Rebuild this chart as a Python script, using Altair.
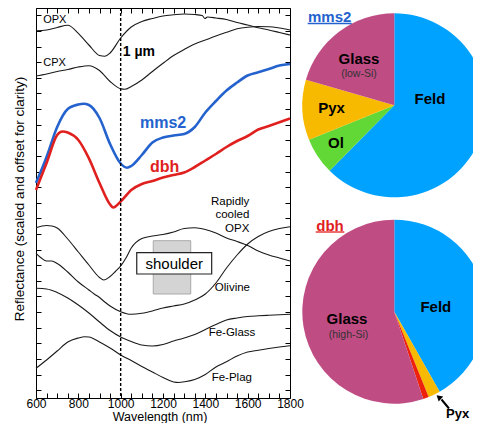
import altair as alt
import pandas as pd

FONT = "Liberation Sans"

# ---------------- spectra (scaled & offset reflectance, arbitrary units) ----------------
opx_wl = [600, 650, 700, 750, 800, 850, 900, 925, 950, 1000, 1050, 1100, 1150, 1200, 1250, 1300,
          1350, 1385, 1398, 1410, 1450, 1500, 1550, 1600, 1650, 1700, 1750, 1800]
opx_r = [3.673, 3.68, 3.705, 3.727, 3.647, 3.53, 3.425, 3.417, 3.45, 3.60, 3.71, 3.765, 3.795, 3.82,
         3.832, 3.84, 3.835, 3.825, 3.795, 3.81, 3.80, 3.785, 3.755, 3.73, 3.702, 3.68, 3.655, 3.63]

cpx_wl = [600, 650, 700, 750, 800, 850, 900, 950, 1000, 1020, 1050, 1100, 1150, 1200, 1250, 1300,
          1350, 1400, 1450, 1500, 1550, 1600, 1650, 1700, 1750, 1800]
cpx_r = [3.22, 3.24, 3.265, 3.285, 3.31, 3.323, 3.275, 3.165, 3.092, 3.087, 3.115, 3.18, 3.265,
         3.347, 3.425, 3.485, 3.54, 3.58, 3.62, 3.657, 3.692, 3.708, 3.715, 3.713, 3.70, 3.68]

mms2_wl = [600, 650, 700, 750, 800, 825, 850, 900, 950, 1000, 1030, 1050, 1100, 1150, 1200, 1250,
           1300, 1350, 1400, 1450, 1500, 1550, 1600, 1650, 1700, 1750, 1800]
mms2_r = [2.15, 2.41, 2.71, 2.89, 2.935, 2.942, 2.93, 2.80, 2.54, 2.345, 2.303, 2.32, 2.43, 2.555,
          2.605, 2.625, 2.64, 2.71, 2.855, 2.97, 3.075, 3.155, 3.225, 3.257, 3.29, 3.325, 3.34]

dbh_wl = [600, 650, 700, 725, 750, 800, 850, 900, 950, 965, 1000, 1050, 1100, 1150, 1200, 1250,
          1300, 1350, 1400, 1450, 1500, 1550, 1600, 1650, 1700, 1750, 1800]
dbh_r = [2.08, 2.35, 2.63, 2.665, 2.655, 2.58, 2.396, 2.15, 1.935, 1.905, 1.965, 2.08, 2.14, 2.17,
         2.205, 2.23, 2.255, 2.31, 2.375, 2.44, 2.51, 2.57, 2.62, 2.685, 2.72, 2.757, 2.795]

rcopx_wl = [600, 650, 675, 700, 750, 800, 850, 900, 920, 950, 975, 1000, 1025, 1050, 1100, 1150,
            1200, 1250, 1300, 1350, 1400, 1450, 1500, 1550, 1600, 1650, 1700, 1750, 1800]
rcopx_r = [1.703, 1.725, 1.72, 1.70, 1.59, 1.46, 1.33, 1.205, 1.18, 1.215, 1.265, 1.32, 1.40, 1.50,
           1.595, 1.62, 1.635, 1.66, 1.695, 1.702, 1.685, 1.65, 1.60, 1.565, 1.525, 1.47, 1.43,
           1.40, 1.37]

oliv_wl = [600, 625, 650, 675, 700, 750, 800, 850, 875, 900, 925, 950, 1000, 1050, 1100, 1150,
           1200, 1250, 1300, 1350, 1400, 1450, 1500, 1550, 1600, 1650, 1700, 1750, 1800]
oliv_r = [1.447, 1.40, 1.37, 1.37, 1.345, 1.26, 1.16, 1.08, 1.04, 1.005, 0.96, 0.92, 0.863, 0.837,
          0.847, 0.87, 0.90, 0.92, 0.94, 0.98, 1.04, 1.15, 1.30, 1.43, 1.54, 1.615, 1.665, 1.695,
          1.713]

feglass_wl = [600, 650, 700, 750, 800, 850, 900, 950, 1000, 1050, 1100, 1150, 1200, 1250, 1300,
              1350, 1400, 1450, 1500, 1550, 1600, 1650, 1700, 1750, 1800]
feglass_r = [1.097, 1.09, 1.055, 1.00, 0.93, 0.85, 0.76, 0.675, 0.61, 0.565, 0.53, 0.52, 0.535,
             0.57, 0.60, 0.635, 0.685, 0.735, 0.78, 0.80, 0.815, 0.822, 0.827, 0.832, 0.837]

feplag_wl = [600, 650, 700, 750, 800, 830, 850, 900, 950, 1000, 1050, 1100, 1150, 1200, 1250, 1275,
             1300, 1350, 1400, 1450, 1500, 1550, 1600, 1650, 1700, 1750, 1800]
feplag_r = [0.297, 0.38, 0.47, 0.56, 0.60, 0.613, 0.61, 0.56, 0.50, 0.43, 0.375, 0.315, 0.26, 0.205,
            0.16, 0.155, 0.162, 0.185, 0.235, 0.31, 0.363, 0.42, 0.46, 0.478, 0.495, 0.51, 0.523]

# ---------------- pie compositions (%) ----------------
mms2_parts = ["Feld", "Ol", "Pyx", "Glass"]
mms2_pct = [62.4, 6.5, 10.6, 20.5]
mms2_colors = ["#00A2FF", "#61D836", "#F8BA00", "#C04C84"]

dbh_parts = ["Feld", "Pyx", "Ol", "Glass"]
dbh_pct = [41.8, 2.1, 1.0, 55.1]
dbh_colors = ["#00A2FF", "#F8BA00", "#EE220C", "#C04C84"]

BLUE = "#2462CE"
RED = "#E0201E"

# ---------------- build tables ----------------
black_specs = [("OPX", opx_wl, opx_r), ("CPX", cpx_wl, cpx_r),
               ("Rapidly cooled OPX", rcopx_wl, rcopx_r), ("Olivine", oliv_wl, oliv_r),
               ("Fe-Glass", feglass_wl, feglass_r), ("Fe-Plag", feplag_wl, feplag_r)]
rows = []
for name, wl, r in black_specs:
    for a, b in zip(wl, r):
        rows.append({"name": name, "wl": a, "r": b})
df_black = pd.DataFrame(rows)

rows = []
for name, wl, r, c in [("mms2", mms2_wl, mms2_r, BLUE), ("dbh", dbh_wl, dbh_r, RED)]:
    for a, b in zip(wl, r):
        rows.append({"name": name, "wl": a, "r": b, "col": c})
df_col = pd.DataFrame(rows)

W, H = 254, 390
xs = alt.Scale(domain=[600, 1800], nice=False, zero=False)
ys = alt.Scale(domain=[0, 3.9], nice=False, zero=False)
x_ticks = list(range(600, 1801, 50))
y_ticks = [round(0.078 + 0.1562 * k, 4) for k in range(25)]

common_ax = dict(domain=False, grid=False, tickSize=5, offset=-5, tickColor="black", tickWidth=1)

black = alt.Chart(df_black).mark_line(color="#1a1a1a", strokeWidth=1.1, interpolate="monotone").encode(
    x=alt.X("wl:Q", scale=xs, title=None,
            axis=alt.Axis(orient="bottom", values=x_ticks, format="d",
                          labelExpr="datum.value % 200 == 0 ? datum.label : ''",
                          labelFlush=False, labelOverlap=False, labelPadding=0,
                          labelFont=FONT, labelFontSize=12, labelColor="black", **common_ax)),
    y=alt.Y("r:Q", scale=ys, title=None,
            axis=alt.Axis(orient="left", values=y_ticks, labels=False, **common_ax)),
    detail="name:N",
)

colored = alt.Chart(df_col).mark_line(strokeWidth=2.6, interpolate="monotone").encode(
    x=alt.X("wl:Q", scale=xs, title=None,
            axis=alt.Axis(orient="top", values=x_ticks, labels=False, **common_ax)),
    y=alt.Y("r:Q", scale=ys, title=None,
            axis=alt.Axis(orient="right", values=y_ticks, labels=False, **common_ax)),
    color=alt.Color("col:N", scale=None),
    detail="name:N",
)


def drect(x1, x2, y1, y2, fill, stroke, sw=1):
    d = pd.DataFrame({"x1": [x1], "x2": [x2], "y1": [y1], "y2": [y2]})
    return alt.Chart(d).mark_rect(fill=fill, stroke=stroke, strokeWidth=sw).encode(
        x=alt.X("x1:Q", scale=xs, axis=None), x2="x2:Q",
        y=alt.Y("y1:Q", scale=ys, axis=None), y2="y2:Q")


def dtext(txt, wl, r, size=11, bold=False, color="black", align="left"):
    d = pd.DataFrame({"wl": [wl], "r": [r], "t": [txt]})
    return alt.Chart(d).mark_text(font=FONT, fontSize=size, fontWeight="bold" if bold else "normal",
                                  color=color, align=align, baseline="middle").encode(
        x=alt.X("wl:Q", scale=xs, axis=None), y=alt.Y("r:Q", scale=ys, axis=None), text="t:N")


def ptext(txt, px, py, size=15, bold=True, color="black", align="center", baseline="middle", angle=0):
    d = pd.DataFrame({"t": [txt]})
    kw = dict(font=FONT, fontSize=size, fontWeight="bold" if bold else "normal", color=color,
              align=align, baseline=baseline)
    if angle:
        kw["angle"] = angle
    return alt.Chart(d).mark_text(**kw).encode(x=alt.value(px), y=alt.value(py), text="t:N")


def prule(x1, y1, x2, y2, color="black", sw=1.0):
    d = pd.DataFrame({"a": [0]})
    return alt.Chart(d).mark_rule(color=color, strokeWidth=sw).encode(
        x=alt.value(x1), y=alt.value(y1), x2=alt.value(x2), y2=alt.value(y2))


def pie(parts, pct, colors, cx, cy):
    d = pd.DataFrame({"part": parts, "pct": pct, "col": colors, "ord": list(range(len(parts)))})
    return alt.Chart(d).mark_arc(outerRadius=92).encode(
        theta=alt.Theta("pct:Q", stack=True),
        color=alt.Color("col:N", scale=None),
        order=alt.Order("ord:Q"),
        x=alt.value(cx), y=alt.value(cy))


# dashed 1 micron line
dash = alt.Chart(pd.DataFrame({"wl": [1000]})).mark_rule(
    color="black", strokeWidth=1.4, strokeDash=[3, 2]).encode(
    x=alt.X("wl:Q", scale=xs, axis=None), y=alt.value(0), y2=alt.value(H))

# arrow head
arrow_head = alt.Chart(pd.DataFrame({"a": [0]})).mark_point(
    shape="triangle", filled=True, color="black", size=45, angle=312, opacity=1).encode(
    x=alt.value(403.5), y=alt.value(389.8))

layers = [
    black, colored,
    drect(1154, 1331, 1.04, 1.573, "#D4D4D4", "#AAAAAA"),
    drect(1076, 1430, 1.24, 1.453, "white", "#222222", 1.2),
    dtext("shoulder", 1253, 1.345, size=15, align="center"),
    dash,
    dtext("OPX", 634, 3.78, size=11),
    dtext("CPX", 634, 3.353, size=11),
    dtext("1 µm", 1010, 3.463, size=14, bold=True),
    dtext("mms2", 1091, 2.747, size=16, bold=True, color=BLUE),
    dtext("dbh", 1138, 2.313, size=16, bold=True, color=RED),
    dtext("Rapidly", 1608, 1.963, size=11.5, align="right"),
    dtext("cooled", 1608, 1.83, size=11.5, align="right"),
    dtext("OPX", 1608, 1.69, size=11.5, align="right"),
    dtext("Olivine", 1528, 1.097, size=11.5, align="center"),
    dtext("Fe-Glass", 1526, 0.647, size=11.5, align="center"),
    dtext("Fe-Plag", 1525, 0.197, size=11.5, align="center"),
    ptext("Wavelength (nm)", 124, 408.8, size=12.5, bold=False),
    ptext("Reflectance (scaled and offset for clarity)", -16, 191, size=13.5, bold=False, angle=270),
    # pies
    pie(mms2_parts, mms2_pct, mms2_colors, 358.3, 97.3),
    pie(dbh_parts, dbh_pct, dbh_colors, 358.3, 303.7),
    ptext("mms2", 293.7, 14, size=15, color=BLUE, baseline="alphabetic"),
    prule(271.7, 15.5, 315.7, 15.5, color=BLUE, sw=1.3),
    ptext("dbh", 294, 222.5, size=15, color=RED, baseline="alphabetic"),
    prule(279.7, 224, 308.3, 224, color=RED, sw=1.3),
    ptext("Glass", 323, 50.5),
    ptext("(low-Si)", 323, 65.5, size=10.5, bold=False, color="#333333"),
    ptext("Pyx", 295.5, 100),
    ptext("Ol", 300, 135),
    ptext("Feld", 394, 91.3),
    ptext("Feld", 399.8, 299.3),
    ptext("Glass", 311, 310.5),
    ptext("(high-Si)", 312.5, 326.5, size=10.5, bold=False, color="#333333"),
    prule(413, 400.5, 405.5, 391.5, sw=2),
    arrow_head,
    ptext("Pyx", 410, 406, size=13, align="left"),
]

chart = alt.layer(*layers).resolve_axis(x="independent", y="independent").properties(
    width=W, height=H,
    autosize=alt.AutoSizeParams(type="none"),
    padding={"left": 28, "top": 0, "right": 183, "bottom": 25},
).configure_view(stroke="black", strokeWidth=1)

chart.save("out.html", embed_options={"renderer": "svg", "actions": False})
